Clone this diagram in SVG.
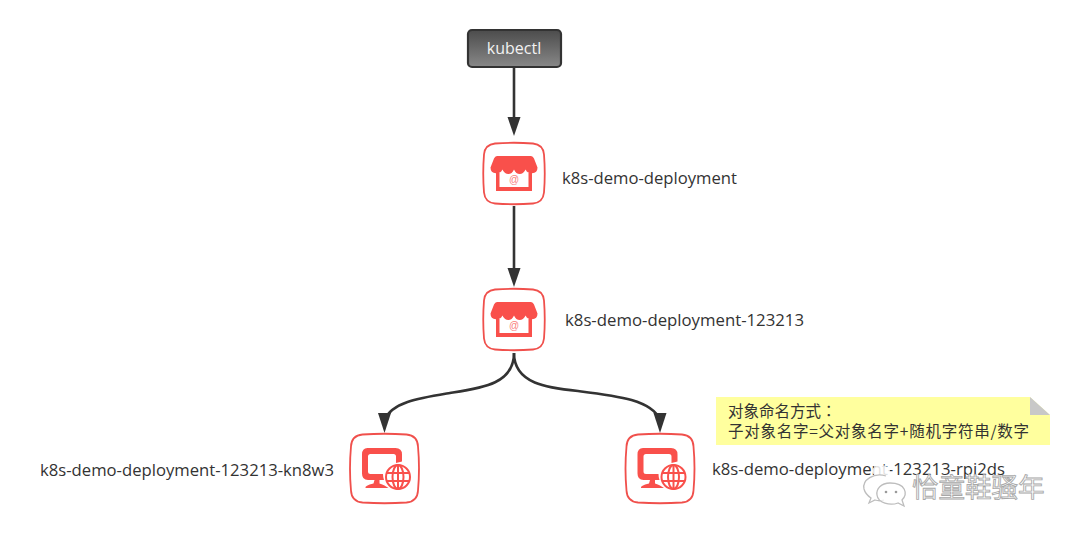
<svg xmlns="http://www.w3.org/2000/svg" width="1080" height="535" viewBox="0 0 1080 535">
  <style>
    .label { font-family: "Open Sans", "DejaVu Sans", sans-serif; font-size: 16px; fill: #333; }
    .note { font-family: "Noto Sans CJK SC", sans-serif; font-size: 15.5px; fill: #333; }
    .link { fill: none; stroke: #333; stroke-width: 2.6; }
    .frame { fill: #fff; stroke: #f0504c; stroke-width: 1.8; }
    .ink { fill: #f9504b; }
    .tip { fill: #333; }
  </style>
  <defs>
    <linearGradient id="cmd" x1="0" y1="0" x2="0" y2="1">
      <stop offset="0" stop-color="#4c4c4c"/>
      <stop offset="1" stop-color="#888"/>
    </linearGradient>
    <!-- storefront glyph, centred on the origin -->
    <g id="store">
      <path class="frame" d="M-19 -30 Q0 -31.500 19 -30 Q29 -29 30 -19 Q31.500 0 30 19 Q29 29 19 30 Q0 31.500 -19 30 Q-29 29 -30 19 Q-31.500 0 -30 -19 Q-29 -29 -19 -30 Z"/>
      <path class="ink" d="M-17 -17.500 L17 -17.500 Q19 -17.500 20 -15 L23.500 -6 Q23.500 -0.500 18 -0.200 Q13 0 11.700 -4 Q9 0.500 5.800 0.500 Q2 0.500 0 -4 Q-2 0.500 -5.800 0.500 Q-9 0.500 -11.700 -4 Q-13 0 -18 -0.200 Q-23.500 -0.500 -23.500 -6 L-20 -15 Q-19 -17.500 -17 -17.500 Z"/>
      <path class="ink" d="M-18 -1 L-14.500 -0.500 L-14.500 13.500 L14.500 13.500 L14.500 -0.500 L18 -1 L18 17.500 L-18 17.500 Z"/>
      <text x="0" y="9.500" text-anchor="middle" font-family="'Liberation Sans', sans-serif" font-size="10" fill="#f9807c">@</text>
    </g>
    <!-- monitor and globe glyph, centred on the origin -->
    <g id="web">
      <path class="frame" d="M-22 -34 Q0 -35.500 22 -34 Q33 -33 33.500 -22 Q35.500 0 33.500 22 Q33 33 22 34 Q0 35.500 -22 34 Q-33 33 -33.500 22 Q-35.500 0 -33.500 -22 Q-33 -33 -22 -34 Z"/>
      <path class="ink" d="M-17 -20.500 L11 -20.500 Q17.500 -20.500 17.500 -14 L17.500 -7 L11.500 -5.500 L11.500 -12 Q11.500 -14.500 9 -14.500 L-14 -14.500 Q-16.500 -14.500 -16.500 -12 L-16.500 3 Q-16.500 5.500 -14 5.500 L-1.500 5.500 Q-1.500 9 -0.500 11.500 L-5 11.500 L-5 15 Q-2 16 0 17 L4 19.500 L-19 19.500 Q-20 17 -11 15 L-10 11.500 L-16.500 11.500 Q-22.500 11.500 -22.500 5 L-22.500 -14 Q-22.500 -20.500 -17 -20.500 Z"/>
      <g fill="none" stroke="#f9504b" stroke-width="2">
        <circle cx="13.500" cy="8.500" r="12"/>
        <ellipse cx="13.500" cy="8.500" rx="5.500" ry="12"/>
        <path d="M13.500 -3.500 L13.500 20.500 M2.500 4.500 L24.500 4.500 M2.500 12.500 L24.500 12.500"/>
      </g>
    </g>
  </defs>

  <rect width="1080" height="535" fill="#fff"/>

  <g id="connectors">
    <path class="link" d="M514 67 L514 118"/>
    <path class="tip" d="M507.500 117 L520.500 117 L514 136 Z"/>
    <path class="link" d="M514 206 L514 268"/>
    <path class="tip" d="M507.500 268 L520.500 268 L514 287 Z"/>
    <path class="link" d="M514 353 C514 384 482 388 450 393 C420 398 392 402 384.500 420"/>
    <path class="tip" d="M378 413 L391 413 L384.500 433 Z"/>
    <path class="link" d="M514 353 C514 384 548 388 578 391 C618 396 652 400 660 420"/>
    <path class="tip" d="M653.500 413 L666.500 413 L660 433 Z"/>
  </g>

  <g id="kubectl">
    <rect x="468" y="30" width="93" height="37" rx="4" fill="url(#cmd)" stroke="#333" stroke-width="2.200"/>
    <text x="514" y="54" text-anchor="middle" class="label" style="fill:#f2f2f2">kubectl</text>
  </g>

  <g id="deployment">
    <use href="#store" x="514" y="173.500"/>
    <text x="562" y="184" class="label" textLength="175" lengthAdjust="spacingAndGlyphs">k8s-demo-deployment</text>
  </g>

  <g id="replicaset">
    <use href="#store" x="514" y="319.500"/>
    <text x="565" y="326" class="label" textLength="239" lengthAdjust="spacingAndGlyphs">k8s-demo-deployment-123213</text>
  </g>

  <g id="pod-kn8w3">
    <use href="#web" x="384.500" y="468.500"/>
    <text x="40" y="476" class="label" textLength="294" lengthAdjust="spacingAndGlyphs">k8s-demo-deployment-123213-kn8w3</text>
  </g>

  <g id="pod-rpi2ds">
    <use href="#web" x="660" y="468.500"/>
    <text x="712" y="475" class="label" textLength="293" lengthAdjust="spacingAndGlyphs">k8s-demo-deployment-123213-rpi2ds</text>
  </g>

  <g id="naming-note">
    <path d="M716 397 L1030 397 L1050 415 L1050 445 L716 445 Z" fill="#ffff9e"/>
    <path d="M1030 397 L1050 415 L1030 415 Z" fill="#c8c8c8"/>
    <text x="728" y="417" class="note">对象命名方式<tspan font-family="'Noto Sans CJK TC', sans-serif">：</tspan></text>
    <text x="728" y="437" class="note" textLength="301" lengthAdjust="spacing">子对象名字=父对象名字+随机字符串/数字</text>
  </g>

  <g id="channel-mark">
    <ellipse cx="881" cy="471" rx="9" ry="6" fill="#fff" opacity="0.85"/>
    <g fill="#fff" fill-opacity="0.7" stroke="#bdbdbd" stroke-width="1.300">
      <path d="M886 476 C874 472 862 480 864 489 C865 493 868 496 871 498 L869 503 L875 500 C878 501 881 501 884 500"/>
      <path d="M890 483 C881 483 876 489 877 495 C878 503 890 506 898 503 L904 506 L902 500 C908 494 906 483 890 483 Z"/>
    </g>
    <circle cx="886" cy="492" r="1.300" fill="#9a9a9a"/>
    <circle cx="896" cy="492" r="1.300" fill="#9a9a9a"/>
    <text x="912" y="497" font-family="'Noto Sans CJK SC', sans-serif" font-size="26.500" fill="#fff" stroke="#a8a8a8" stroke-width="0.900">恰童鞋骚年</text>
  </g>
</svg>
